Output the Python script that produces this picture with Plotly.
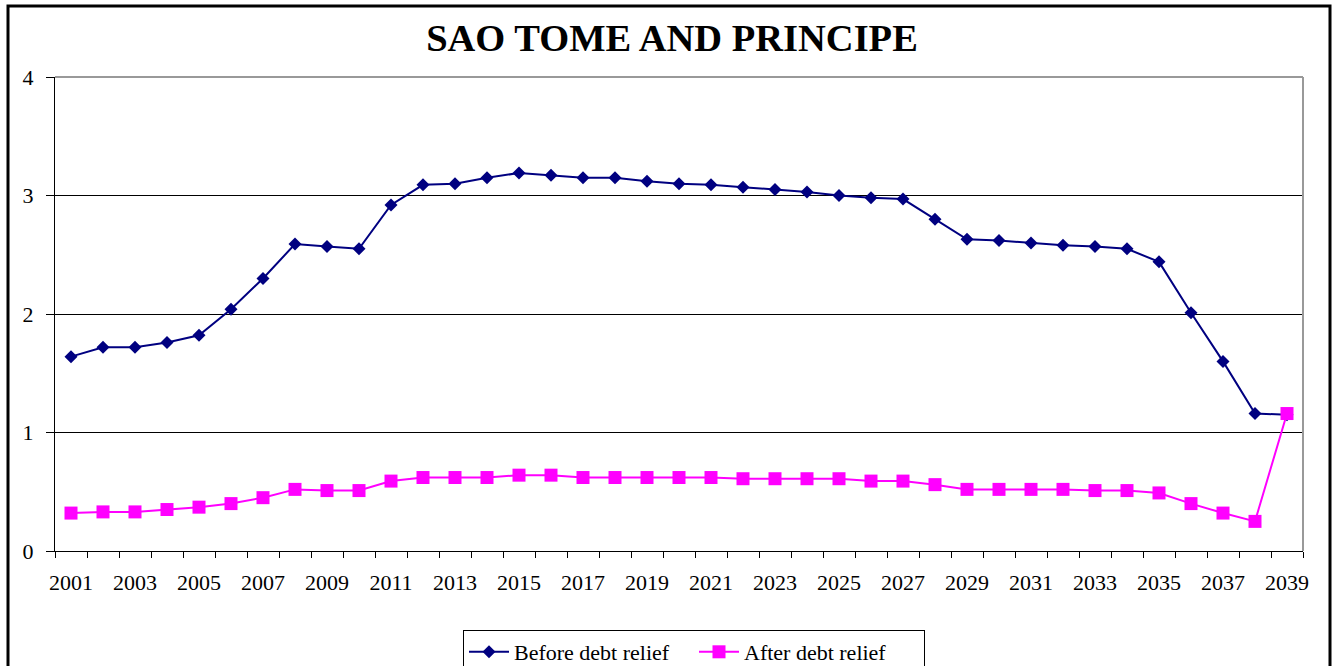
import plotly.graph_objects as go

years = list(range(2001, 2040))
before_relief = [1.64, 1.72, 1.72, 1.76, 1.82, 2.04, 2.30, 2.59, 2.57, 2.55,
                 2.92, 3.09, 3.10, 3.15, 3.19, 3.17, 3.15, 3.15, 3.12, 3.10,
                 3.09, 3.07, 3.05, 3.03, 3.00, 2.98, 2.97, 2.80, 2.63, 2.62,
                 2.60, 2.58, 2.57, 2.55, 2.44, 2.01, 1.60, 1.16, 1.15]
after_relief = [0.32, 0.33, 0.33, 0.35, 0.37, 0.40, 0.45, 0.52, 0.51, 0.51,
                0.59, 0.62, 0.62, 0.62, 0.64, 0.64, 0.62, 0.62, 0.62, 0.62,
                0.62, 0.61, 0.61, 0.61, 0.61, 0.59, 0.59, 0.56, 0.52, 0.52,
                0.52, 0.52, 0.51, 0.51, 0.49, 0.40, 0.32, 0.25, 1.16]
label_years = years[::2]
y_ticks = [0, 1, 2, 3, 4]

FONT = "Liberation Serif, Times New Roman, serif"

fig = go.Figure()
fig.add_trace(go.Scatter(
    x=years, y=before_relief, name="Before debt relief", mode="lines+markers",
    line=dict(color="#000080", width=2),
    marker=dict(symbol="diamond", size=10, color="#000080"),
))
fig.add_trace(go.Scatter(
    x=years, y=after_relief, name="After debt relief", mode="lines+markers",
    line=dict(color="#FF00FF", width=2),
    marker=dict(symbol="square", size=13, color="#FF00FF"),
))

L, R, T, B = 55, 34, 77, 115
W, H = 1337, 666
pw, ph = W - L - R, H - T - B

def px_x(p):
    return (p - L) / pw

def px_y(p):
    return (H - B - p) / ph

fig.update_layout(
    width=W, height=H,
    margin=dict(l=L, r=R, t=T, b=B, autoexpand=False),
    paper_bgcolor="white", plot_bgcolor="white",
    font=dict(family=FONT, size=22, color="black"),
    title=dict(text="<b>SAO TOME AND PRINCIPE</b>", x=672 / W, xref="container", xanchor="center",
               y=1 - 38 / H, yref="container", yanchor="middle",
               font=dict(family=FONT, size=38.5, color="black")),
    showlegend=True,
    legend=dict(orientation="h", x=694 / W, xref="container", xanchor="center",
                y=1 - 630 / H, yref="container", yanchor="top",
                bordercolor="black", borderwidth=1, bgcolor="white",
                font=dict(family=FONT, size=22, color="black"),
                itemwidth=40, entrywidth=175, entrywidthmode="pixels",
                traceorder="normal"),
    xaxis=dict(
        range=[2000.5, 2039.5], tickmode="array", tickvals=label_years,
        ticktext=[str(y) for y in label_years],
        ticks="outside", ticklen=0, showgrid=False, zeroline=False,
        showline=True, linecolor="black", linewidth=1,
        minor=dict(tickmode="linear", tick0=2000.5, dtick=1, ticks="outside",
                   ticklen=6, tickcolor="black", showgrid=False),
        tickfont=dict(family=FONT, size=22, color="black"),
        ticklabelstandoff=12,
        automargin=False, fixedrange=True,
    ),
    yaxis=dict(
        range=[0, 4], tickmode="array", tickvals=y_ticks,
        ticks="outside", ticklen=8, tickcolor="black",
        showgrid=True, gridcolor="black", gridwidth=1, zeroline=False,
        showline=True, linecolor="black", linewidth=1,
        tickfont=dict(family=FONT, size=22, color="black"),
        ticklabelstandoff=8,
        automargin=False, fixedrange=True,
    ),
    shapes=[
        dict(type="line", xref="paper", yref="paper", x0=0, x1=1, y0=1, y1=1,
             line=dict(color="#999999", width=2), layer="above"),
        dict(type="line", xref="paper", yref="paper", x0=1, x1=1, y0=0, y1=1,
             line=dict(color="#999999", width=2), layer="above"),
        dict(type="rect", xref="paper", yref="paper",
             x0=px_x(8), x1=px_x(1330), y0=px_y(6), y1=px_y(680),
             line=dict(color="black", width=3), layer="above"),
    ],
)

fig.write_html(
    "out.html",
    config={"displayModeBar": False},
    post_script="document.body.style.margin='0';document.body.style.overflow='hidden';",
)
